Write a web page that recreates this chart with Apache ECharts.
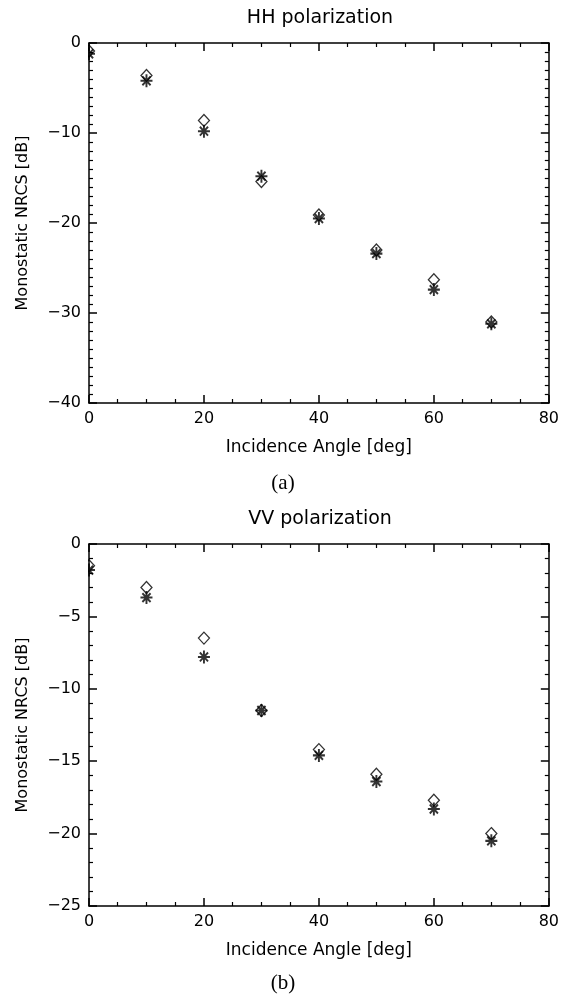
<!DOCTYPE html>
<html>
<head>
<meta charset="utf-8">
<script src="https://cdn.jsdelivr.net/npm/echarts@6/dist/echarts.min.js"></script>
<style>
  html, body { margin: 0; padding: 0; background: #fff; }
  #chart { width: 562px; height: 998px; }
</style>
</head>
<body>
<div id="chart"></div>
<script>
  // incidence angles (deg)
  const angles = [0, 10, 20, 30, 40, 50, 60, 70];

  // HH polarization, monostatic NRCS [dB]
  const hhDiamond = [-0.9, -3.6, -8.6, -15.4, -19.1, -23.0, -26.3, -31.0];
  const hhStar = [-1.2, -4.2, -9.8, -14.8, -19.5, -23.4, -27.4, -31.2];

  // VV polarization, monostatic NRCS [dB]
  const vvDiamond = [-1.5, -3.0, -6.5, -11.5, -14.2, -15.9, -17.7, -20.0];
  const vvStar = [-1.8, -3.7, -7.8, -11.5, -14.6, -16.4, -18.3, -20.5];

  const xTicks = [0, 20, 40, 60, 80];
  const hhTicks = [-40, -30, -20, -10, 0];
  const vvTicks = [-25, -20, -15, -10, -5, 0];

  const FONT = "DejaVu Sans";
  const starPath = "path://M5,0L5,10M0,5L10,5M1.6,1.6L8.4,8.4M1.6,8.4L8.4,1.6";

  const zip = (xs, ys) => xs.map((x, i) => [x, ys[i]]);
  const fmt = (v) => (v < 0 ? "\u2212" + Math.abs(v) : String(v));

  const lineStyle = { color: "#000", width: 1.5 };

  function xAxisFor(gridIndex, position, ticks) {
    const main = position === "bottom";
    return {
      gridIndex,
      position,
      type: "value",
      min: ticks[0],
      max: ticks[ticks.length - 1],
      interval: ticks[1] - ticks[0],
      axisLine: { show: true, onZero: false, lineStyle },
      axisTick: { show: true, inside: true, length: 8, lineStyle },
      minorTick: { show: true, splitNumber: 4, length: 4, lineStyle: { color: "#000", width: 1.2 } },
      splitLine: { show: false },
      axisLabel: {
        show: main,
        margin: 8,
        color: "#000",
        fontFamily: FONT,
        fontSize: 16,
      },
      name: main ? "Incidence Angle [deg]" : "",
      nameLocation: "middle",
      nameGap: 36,
      nameTextStyle: { color: "#000", fontFamily: FONT, fontSize: 17 },
    };
  }

  function yAxisFor(gridIndex, position, ticks, minorSplit) {
    const main = position === "left";
    return {
      gridIndex,
      position,
      type: "value",
      min: ticks[0],
      max: ticks[ticks.length - 1],
      interval: ticks[1] - ticks[0],
      axisLine: { show: true, onZero: false, lineStyle },
      axisTick: { show: true, inside: true, length: 8, lineStyle },
      minorTick: { show: true, splitNumber: minorSplit, length: 4, lineStyle: { color: "#000", width: 1.2 } },
      splitLine: { show: false },
      axisLabel: {
        show: main,
        margin: 8,
        color: "#000",
        fontFamily: FONT,
        fontSize: 16,
        formatter: fmt,
      },
      name: main ? "Monostatic NRCS [dB]" : "",
      nameLocation: "middle",
      nameGap: 58,
      nameTextStyle: { color: "#000", fontFamily: FONT, fontSize: 16 },
    };
  }

  function diamonds(idx, data) {
    return {
      type: "scatter",
      xAxisIndex: idx,
      yAxisIndex: idx,
      data,
      symbol: "diamond",
      symbolSize: [11, 12],
      itemStyle: { color: "rgba(0,0,0,0)", borderColor: "#000", borderWidth: 1.3 },
      silent: true,
      z: 3,
    };
  }

  function stars(idx, data) {
    return {
      type: "scatter",
      xAxisIndex: idx,
      yAxisIndex: idx,
      data,
      symbol: starPath,
      symbolSize: [12, 13],
      itemStyle: { color: "rgba(0,0,0,0)", borderColor: "#000", borderWidth: 2 },
      silent: true,
      z: 4,
    };
  }

  function text(str, x, y, font) {
    return {
      type: "text",
      x,
      y,
      style: { text: str, font, fill: "#000", align: "center", verticalAlign: "middle" },
    };
  }

  const chart = echarts.init(document.getElementById("chart"), null, { renderer: "canvas" });

  chart.setOption({
    animation: false,
    backgroundColor: "#fff",
    grid: [
      { left: 89, top: 43, width: 463, height: 360 },
      { left: 89, top: 544, width: 463, height: 362 },
    ],
    xAxis: [
      xAxisFor(0, "bottom", xTicks),
      xAxisFor(1, "bottom", xTicks),
      xAxisFor(0, "top", xTicks),
      xAxisFor(1, "top", xTicks),
    ],
    yAxis: [
      yAxisFor(0, "left", hhTicks, 10),
      yAxisFor(1, "left", vvTicks, 5),
      yAxisFor(0, "right", hhTicks, 10),
      yAxisFor(1, "right", vvTicks, 5),
    ],
    series: [
      diamonds(0, zip(angles, hhDiamond)),
      stars(0, zip(angles, hhStar)),
      diamonds(1, zip(angles, vvDiamond)),
      stars(1, zip(angles, vvStar)),
    ],
    graphic: [
      text("HH polarization", 320, 18, "19px '" + FONT + "'"),
      text("VV polarization", 320, 519, "19px '" + FONT + "'"),
      text("(a)", 283, 483, "21px 'Liberation Serif'"),
      text("(b)", 283, 983, "21px 'Liberation Serif'"),
      // mask the part of the x=0 markers that falls outside the frame
      { type: "rect", shape: { x: 82, y: 44, width: 6, height: 358 }, style: { fill: "#fff" }, z: 100 },
      { type: "rect", shape: { x: 82, y: 545, width: 6, height: 360 }, style: { fill: "#fff" }, z: 100 },
    ],
  });
</script>
</body>
</html>
